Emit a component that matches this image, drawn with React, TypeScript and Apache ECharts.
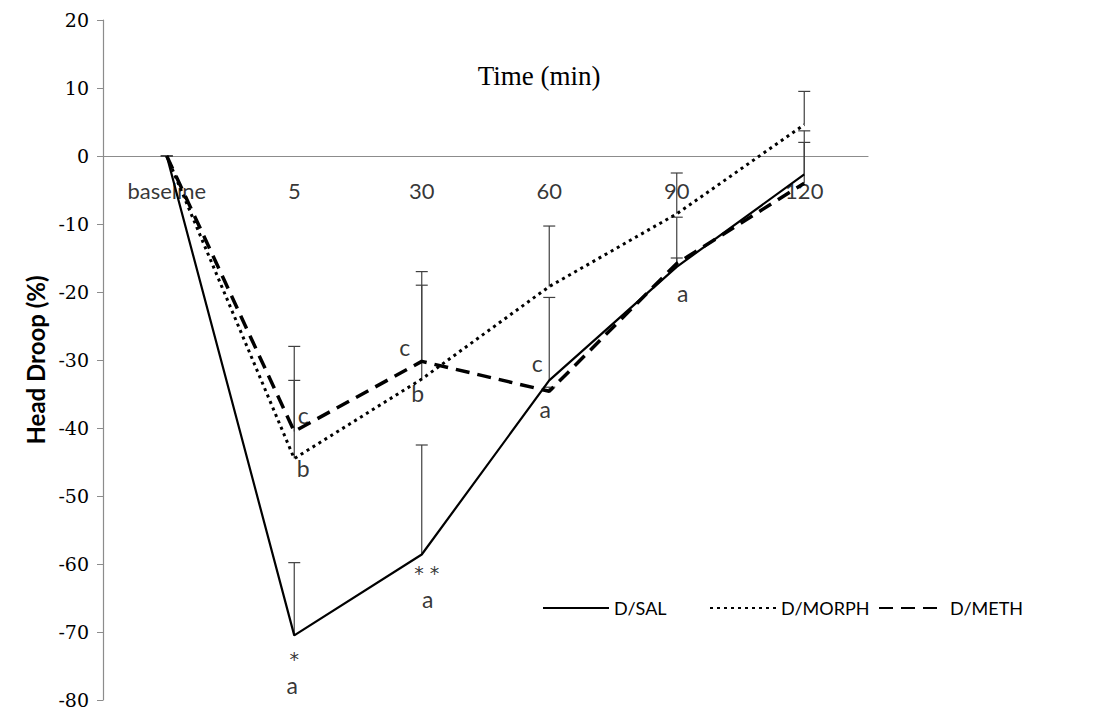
import React, { useEffect, useRef } from "react";
import * as echarts from "echarts";

const categories = ["baseline", "5", "30", "60", "90", "120"];
const salValues = [0, -70.5, -58.6, -33, -16.3, -2.7];
const salUpper = [0, -59.8, -42.5, -20.8, -9, 2.0];
const morphValues = [0, -44.5, -32.8, -19.2, -8.5, 4.6];
const morphUpper = [0, -33, -19, -10.3, -2.5, 9.5];
const methValues = [0, -40.5, -30.2, -34.6, -15.8, -4];
const methUpper = [0, -28, -17, -34, -15, 3.7];
const yTicks = { min: -80, max: 20, interval: 10 };
// annotation: [category, value, text, dx]
const annotations: [string, number, string, number][] = [
  ["5", -77.8, "a", -2],
  ["30", -65.1, "a", 6],
  ["5", -38.1, "c", 9],
  ["5", -45.9, "b", 9],
  ["30", -28.1, "c", -17],
  ["30", -34.9, "b", -4],
  ["60", -30.4, "c", -12],
  ["60", -37.2, "a", -4],
  ["90", -20.1, "a", 6],
];
const starNotes: [string, number, string, number][] = [
  ["5", -73.9, "*", 0],
  ["30", -61.3, "* *", 5],
];

function errorSeries(name: string, values: number[], upper: number[]) {
  return {
    type: "custom",
    name: name + "-err",
    silent: true,
    z: 1,
    data: values.map((v, i) => [i, v, upper[i]]),
    renderItem: (params: any, api: any) => {
      const base = api.coord([api.value(0), api.value(1)]);
      const top = api.coord([api.value(0), api.value(2)]);
      const hw = 6;
      const st = { stroke: "#404040", lineWidth: 1.2 };
      return {
        type: "group",
        children: [
          { type: "line", shape: { x1: base[0], y1: base[1], x2: top[0], y2: top[1] }, style: st },
          { type: "line", shape: { x1: top[0] - hw, y1: top[1], x2: top[0] + hw, y2: top[1] }, style: st },
        ],
      };
    },
  };
}

export default function App() {
  const ref = useRef<HTMLDivElement>(null);
  useEffect(() => {
    document.body.style.margin = "0";
    const chart = echarts.init(ref.current!, null, { renderer: "svg" });
    const sans = "Lato, 'Open Sans', sans-serif";
    const legendCommon = {
      top: 594,
      itemWidth: 66,
      itemHeight: 14,
      itemGap: 0,
      itemStyle: { opacity: 0 },
      textStyle: { fontFamily: sans, fontSize: 18, color: "#000" },
    };
    chart.setOption({
      animation: false,
      backgroundColor: "#ffffff",
      title: {
        text: "Time (min)",
        left: 534,
        top: 57,
        textAlign: "center",
        textStyle: { fontFamily: "'Liberation Serif', serif", fontSize: 27, fontWeight: "normal", color: "#000" },
      },
      legend: [
        { ...legendCommon, left: 537, data: ["D/SAL"] },
        { ...legendCommon, left: 704, data: ["D/MORPH"] },
        { ...legendCommon, left: 873, data: ["D/METH"] },
      ],
      grid: { left: 103, right: 228, top: 20, bottom: 16, containLabel: false, outerBoundsMode: "none" },
      xAxis: {
        type: "category",
        data: categories,
        boundaryGap: true,
        axisLine: { onZero: true, lineStyle: { color: "#8c8c8c", width: 1.2 } },
        axisTick: { show: false },
        axisLabel: { show: false },
        splitLine: { show: false },
      },
      yAxis: {
        type: "value",
        min: yTicks.min,
        max: yTicks.max,
        interval: yTicks.interval,
        name: "Head Droop (%)",
        nameLocation: "middle",
        nameGap: 46,
        nameTextStyle: { fontFamily: sans, fontSize: 24, fontWeight: "bold", color: "#000" },
        axisLine: { show: true, lineStyle: { color: "#8c8c8c", width: 1.2 } },
        axisTick: { show: true, length: 6, lineStyle: { color: "#8c8c8c" } },
        axisLabel: { fontFamily: "'DejaVu Serif', serif", fontSize: 19, color: "#000", margin: 14 },
        splitLine: { show: false },
      },
      series: [
        {
          type: "scatter",
          name: "cat-labels",
          silent: true,
          symbolSize: 0,
          z: 1,
          data: categories.map((c) => ({
            value: [c, 0],
            label: {
              show: true,
              formatter: c,
              position: "inside",
              offset: [0, 34],
              fontFamily: sans,
              fontSize: 22,
              color: "#000",
            },
          })),
        },
        {
          name: "D/SAL",
          type: "line",
          data: salValues,
          symbol: "none",
          z: 3,
          lineStyle: { color: "#000", width: 2.2, type: "solid" },
          itemStyle: { color: "#000" },
        },
        {
          name: "D/MORPH",
          type: "line",
          data: morphValues,
          symbol: "none",
          z: 3,
          lineStyle: { color: "#000", width: 3, type: [3, 4] },
          itemStyle: { color: "#000" },
        },
        {
          name: "D/METH",
          type: "line",
          data: methValues,
          symbol: "none",
          z: 3,
          lineStyle: { color: "#000", width: 3.5, type: [14, 8] },
          itemStyle: { color: "#000" },
        },
        errorSeries("D/SAL", salValues, salUpper),
        errorSeries("D/MORPH", morphValues, morphUpper),
        errorSeries("D/METH", methValues, methUpper),
        {
          type: "scatter",
          name: "notes",
          silent: true,
          symbolSize: 0,
          z: 5,
          data: annotations.map((a) => ({
            value: [a[0], a[1]],
            label: {
              show: true,
              formatter: a[2],
              position: "inside",
              offset: [a[3], 0],
              fontFamily: sans,
              fontSize: 23,
              lineHeight: 20,
              color: "#000",
            },
          })),
        },
        {
          type: "scatter",
          name: "stars",
          silent: true,
          symbolSize: 0,
          z: 5,
          data: starNotes.map((a) => ({
            value: [a[0], a[1]],
            label: {
              show: true,
              formatter: a[2],
              position: "inside",
              offset: [a[3], 0],
              fontFamily: "'DejaVu Sans', sans-serif",
              fontSize: 19,
              lineHeight: 14,
              color: "#000",
            },
          })),
        },
      ],
    });
    return () => chart.dispose();
  }, []);
  return <div ref={ref} style={{ width: 1096, height: 716 }} />;
}
